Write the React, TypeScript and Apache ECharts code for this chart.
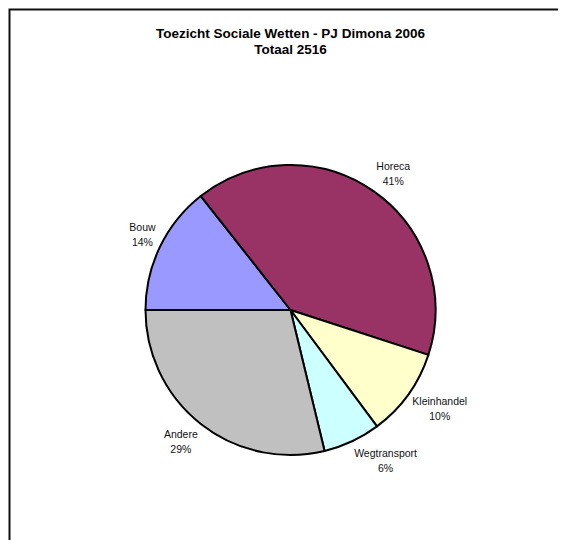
import React, { useEffect, useRef } from "react";
import * as echarts from "echarts";

const TITLE_LINES = ["Toezicht Sociale Wetten - PJ Dimona 2006", "Totaal 2516"];
const categories = ["Bouw", "Horeca", "Kleinhandel", "Wegtransport", "Andere"];
const values = [362, 1022, 247, 161, 724];
const colors = ["#9999FF", "#993366", "#FFFFCC", "#CCFFFF", "#C0C0C0"];

const W = 558;
const H = 532;
const CX = 282.5;
const CY = 302;
const FONT = "'Liberation Sans', Arial, Helvetica, sans-serif";

export default function App() {
  const ref = useRef<HTMLDivElement>(null);
  useEffect(() => {
    if (!ref.current) return;
    const chart = echarts.init(ref.current, null, { renderer: "svg" });
    chart.setOption({
      animation: false,
      backgroundColor: "#ffffff",
      title: {
        text: TITLE_LINES.join("\n"),
        left: CX,
        textAlign: "center",
        top: 17,
        padding: 0,
        textStyle: {
          fontFamily: FONT,
          fontSize: 13.5,
          fontWeight: "bold",
          color: "#000",
          lineHeight: 16,
        },
      },
      graphic: [
        {
          type: "polyline",
          shape: { points: [[1.5, H + 10], [1.5, 1.5], [W + 10, 1.5]] },
          style: { stroke: "#111", lineWidth: 2, fill: null },
          silent: true,
        },
      ],
      series: [
        {
          type: "pie",
          center: [CX, CY],
          radius: 145,
          startAngle: 180,
          clockwise: true,
          avoidLabelOverlap: false,
          percentPrecision: 0,
          itemStyle: { borderColor: "#000", borderWidth: 2 },
          emphasis: { disabled: true },
          label: {
            show: true,
            position: "outside",
            formatter: "{b}\n{d}%",
            fontFamily: FONT,
            fontSize: 10.5,
            lineHeight: 15,
            color: "#111",
            distanceToLabelLine: 0,
          },
          labelLine: { show: false, length: 5, length2: 0 },
          labelLayout: (p: any) => {
            const r = p.labelRect;
            const rightSide = r.x + r.width / 2 > CX;
            const ax = rightSide ? r.x : r.x + r.width;
            const ay = r.y + r.height / 2;
            const dx = ax - CX;
            const dy = ay - CY;
            const dist = Math.sqrt(dx * dx + dy * dy) || 1;
            const c = dy / dist;
            const offY = (r.height / 2) * Math.sign(c) * Math.sqrt(Math.abs(c));
            return {
              x: r.x + r.width / 2,
              y: ay + offY,
              align: "center",
              verticalAlign: "middle",
            };
          },
          data: categories.map((name, i) => ({
            name,
            value: values[i],
            itemStyle: { color: colors[i] },
          })),
        },
      ],
    });
    return () => chart.dispose();
  }, []);
  return <div ref={ref} style={{ width: W, height: H }} />;
}
